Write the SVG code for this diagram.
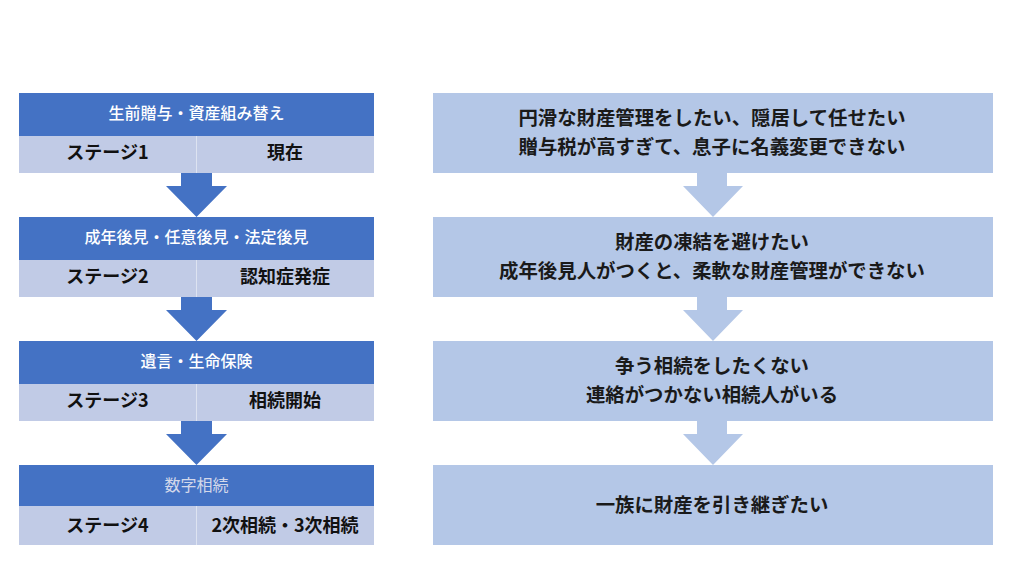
<svg xmlns="http://www.w3.org/2000/svg" width="1024" height="576" viewBox="0 0 1024 576">
<style>
text{font-family:"Noto Sans CJK JP","Noto Sans",sans-serif;text-anchor:middle}
.hd{fill:#4472c4}
.row{fill:#c1cbe6}
.box{fill:#b4c7e7}
.ht{fill:#ffffff;font-size:16px;font-weight:500}
.ht4{fill:#d3d8ea;font-size:16px;font-weight:400}
.rt{fill:#111111;font-size:18px;font-weight:700}
.bt{fill:#1a1a1a;font-size:19.4px;font-weight:700}
.div{stroke:#dde3f1;stroke-width:1}
.al{fill:#4472c4}
.ar{fill:#b4c7e7}
</style>
<rect width="1024" height="576" fill="#ffffff"/>
<g id="stage1">
<rect class="hd" x="19" y="93" width="355" height="43"/>
<rect class="row" x="19" y="136" width="355" height="37"/>
<line class="div" x1="196.5" y1="136" x2="196.5" y2="173"/>
<text class="ht" x="196.5" y="119">生前贈与・資産組み替え</text>
<text class="rt" x="107.5" y="159">ステージ1</text>
<text class="rt" x="285" y="159">現在</text>
</g>
<g id="stage2">
<rect class="hd" x="19" y="217" width="355" height="43"/>
<rect class="row" x="19" y="260" width="355" height="37"/>
<line class="div" x1="196.5" y1="260" x2="196.5" y2="297"/>
<text class="ht" x="196.5" y="243">成年後見・任意後見・法定後見</text>
<text class="rt" x="107.5" y="283">ステージ2</text>
<text class="rt" x="285" y="283">認知症発症</text>
</g>
<g id="stage3">
<rect class="hd" x="19" y="341" width="355" height="43"/>
<rect class="row" x="19" y="384" width="355" height="37"/>
<line class="div" x1="196.5" y1="384" x2="196.5" y2="421"/>
<text class="ht" x="196.5" y="367">遺言・生命保険</text>
<text class="rt" x="107.5" y="407">ステージ3</text>
<text class="rt" x="285" y="407">相続開始</text>
</g>
<g id="stage4">
<rect class="hd" x="19" y="465" width="355" height="41"/>
<rect class="row" x="19" y="506" width="355" height="39"/>
<line class="div" x1="196.5" y1="506" x2="196.5" y2="545"/>
<text class="ht4" x="196.5" y="491">数字相続</text>
<text class="rt" x="107.5" y="532">ステージ4</text>
<text class="rt" x="285" y="532">2次相続・3次相続</text>
</g>
<g id="need1">
<rect class="box" x="433" y="93" width="560" height="80"/>
<text class="bt" x="712" y="125">円滑な財産管理をしたい、隠居して任せたい</text>
<text class="bt" x="712" y="154">贈与税が高すぎて、息子に名義変更できない</text>
</g>
<g id="need2">
<rect class="box" x="433" y="217" width="560" height="80"/>
<text class="bt" x="712" y="249">財産の凍結を避けたい</text>
<text class="bt" x="712" y="278">成年後見人がつくと、柔軟な財産管理ができない</text>
</g>
<g id="need3">
<rect class="box" x="433" y="341" width="560" height="80"/>
<text class="bt" x="712" y="373">争う相続をしたくない</text>
<text class="bt" x="712" y="402">連絡がつかない相続人がいる</text>
</g>
<g id="need4">
<rect class="box" x="433" y="465" width="560" height="80"/>
<text class="bt" x="712" y="512">一族に財産を引き継ぎたい</text>
</g>
<g id="connectors">
<polygon class="al" points="181,173 212,173 212,186 227,186 196.5,217 166,186 181,186"/>
<polygon class="al" points="181,297 212,297 212,310 227,310 196.5,341 166,310 181,310"/>
<polygon class="al" points="181,421 212,421 212,434 227,434 196.5,465 166,434 181,434"/>
<polygon class="ar" points="697,173 727,173 727,186 743,186 713,217 683,186 697,186"/>
<polygon class="ar" points="697,297 727,297 727,310 743,310 713,341 683,310 697,310"/>
<polygon class="ar" points="697,421 727,421 727,434 743,434 713,465 683,434 697,434"/>
</g>
</svg>
